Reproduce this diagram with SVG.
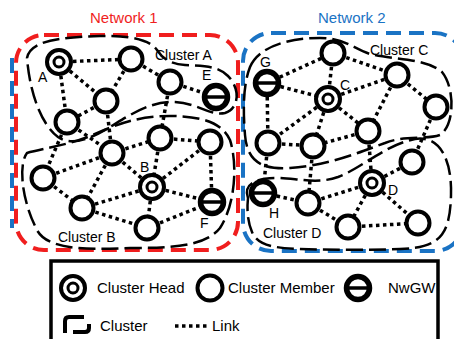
<svg xmlns="http://www.w3.org/2000/svg" width="454" height="339" viewBox="0 0 454 339">
<style>
.net1{fill:none;stroke:#f01e1e;stroke-width:4;stroke-dasharray:15 8}
.net2{fill:none;stroke:#1a73c4;stroke-width:4;stroke-dasharray:15 8}
.cl{fill:none;stroke:#000;stroke-width:2.5;stroke-dasharray:17 6}
.lk{stroke:#000;stroke-width:3.5;stroke-dasharray:3.5 3.5;fill:none}
.m{fill:#fff;stroke:#000;stroke-width:4}
.hi{fill:none;stroke:#000;stroke-width:3}
.gw{fill:#fff;stroke:#000;stroke-width:5.5}
.bar{stroke:#000;stroke-width:3.5}
text{font-family:"Liberation Sans",Arial,sans-serif;fill:#000}
.lb{font-size:14px}
.nt{font-size:15px}
</style>
<defs>
<g id="member"><circle class="m" r="11.5"/></g>
<g id="head"><circle class="m" r="12" stroke-width="4.5"/><circle class="hi" r="5"/></g>
<g id="gw"><circle class="gw" r="11.5"/><line class="bar" x1="-12" y1="0" x2="12" y2="0"/></g>
</defs>
<rect width="454" height="339" fill="#fff"/>

<g id="network1">
<rect class="net1" x="16" y="35" width="222" height="215" rx="28"/>
<text class="nt" x="90" y="23" style="fill:#f01e1e">Network 1</text>
</g>
<g id="network2">
<rect class="net2" x="243" y="33" width="220" height="218" rx="28"/>
<line class="net2" x1="12" y1="58" x2="12" y2="228"/>
<text class="nt" x="318" y="23" style="fill:#1a73c4">Network 2</text>
</g>

<g id="clusters">
<path id="clusterA" class="cl" d="M 27,58 C 30,42 55,37 100,36 C 130,35 150,40 157,50 C 162,58 170,64 185,65 C 205,66 218,66 228,76 C 240,88 240,108 225,113 C 210,116 200,104 175,102 C 150,101 130,115 110,127 C 92,138 72,147 58,137 C 42,125 30,95 27,58 Z"/>
<path id="clusterB" class="cl" d="M 27,153 C 45,148 70,145 95,134 C 120,123 140,116 170,116 C 200,116 222,122 230,140 C 238,165 235,205 220,228 C 205,247 170,248 130,248 C 85,250 45,250 36,228 C 22,200 18,165 27,153 Z"/>
<path id="clusterC" class="cl" d="M 250,67 C 258,48 285,38 320,38 C 345,38 352,48 370,54 C 395,60 425,58 442,72 C 455,88 455,125 440,135 C 425,140 405,135 385,143 C 360,152 330,165 290,168 C 260,170 247,160 245,135 C 243,110 243,85 250,67 Z"/>
<path id="clusterD" class="cl" d="M 248,198 C 243,185 255,177 280,178 C 300,179 318,184 338,177 C 362,168 385,145 415,139 C 440,135 452,160 451,195 C 450,235 440,248 400,249 C 370,250 330,250 300,249 C 275,248 258,246 252,232 C 247,220 247,208 248,198 Z"/>
<text class="lb" x="155" y="60">Cluster A</text>
<text class="lb" x="58" y="242">Cluster B</text>
<text class="lb" x="370" y="55">Cluster C</text>
<text class="lb" x="263" y="238">Cluster D</text>
</g>

<g id="links" class="lk">
<line x1="59" y1="62" x2="131" y2="59"/>
<line x1="59" y1="62" x2="106" y2="101"/>
<line x1="59" y1="62" x2="67" y2="122"/>
<line x1="131" y1="59" x2="106" y2="101"/>
<line x1="131" y1="59" x2="170" y2="82"/>
<line x1="170" y1="82" x2="216" y2="97"/>
<line x1="106" y1="101" x2="67" y2="122"/>
<line x1="170" y1="82" x2="160" y2="138"/>
<line x1="67" y1="122" x2="43" y2="178"/>
<line x1="106" y1="101" x2="112" y2="153"/>
<line x1="67" y1="122" x2="112" y2="153"/>
<line x1="43" y1="178" x2="112" y2="153"/>
<line x1="43" y1="178" x2="82" y2="208"/>
<line x1="112" y1="153" x2="160" y2="138"/>
<line x1="112" y1="153" x2="82" y2="208"/>
<line x1="112" y1="153" x2="152" y2="187"/>
<line x1="160" y1="138" x2="152" y2="187"/>
<line x1="160" y1="138" x2="210" y2="142"/>
<line x1="210" y1="142" x2="152" y2="187"/>
<line x1="210" y1="142" x2="212" y2="202"/>
<line x1="152" y1="187" x2="212" y2="202"/>
<line x1="152" y1="187" x2="82" y2="208"/>
<line x1="152" y1="187" x2="147" y2="228"/>
<line x1="82" y1="208" x2="147" y2="228"/>
<line x1="147" y1="228" x2="212" y2="202"/>
<line x1="267" y1="83" x2="333" y2="53"/>
<line x1="267" y1="83" x2="328" y2="99"/>
<line x1="267" y1="83" x2="268" y2="143"/>
<line x1="333" y1="53" x2="328" y2="99"/>
<line x1="333" y1="53" x2="397" y2="75"/>
<line x1="328" y1="99" x2="397" y2="75"/>
<line x1="328" y1="99" x2="368" y2="131"/>
<line x1="328" y1="99" x2="313" y2="146"/>
<line x1="328" y1="99" x2="268" y2="143"/>
<line x1="397" y1="75" x2="436" y2="107"/>
<line x1="397" y1="75" x2="368" y2="131"/>
<line x1="368" y1="131" x2="313" y2="146"/>
<line x1="268" y1="143" x2="313" y2="146"/>
<line x1="436" y1="107" x2="412" y2="162"/>
<line x1="268" y1="143" x2="263" y2="193"/>
<line x1="313" y1="146" x2="308" y2="203"/>
<line x1="263" y1="193" x2="308" y2="203"/>
<line x1="308" y1="203" x2="372" y2="183"/>
<line x1="308" y1="203" x2="348" y2="227"/>
<line x1="372" y1="183" x2="348" y2="227"/>
<line x1="372" y1="183" x2="418" y2="223"/>
<line x1="372" y1="183" x2="412" y2="162"/>
<line x1="348" y1="227" x2="418" y2="223"/>
<line x1="372" y1="183" x2="368" y2="131"/>
</g>

<g id="nodeA" transform="translate(59,62)"><use href="#head"/><text class="lb" x="-21" y="20">A</text></g>
<g id="nodeA1" transform="translate(131,59)"><use href="#member"/></g>
<g id="nodeA2" transform="translate(106,101)"><use href="#member"/></g>
<g id="nodeA3" transform="translate(67,122)"><use href="#member"/></g>
<g id="nodeA4" transform="translate(170,82)"><use href="#member"/></g>
<g id="nodeE" transform="translate(216,97)"><use href="#gw"/><text class="lb" x="-14" y="-17">E</text></g>

<g id="nodeB1" transform="translate(43,178)"><use href="#member"/></g>
<g id="nodeB2" transform="translate(112,153)"><use href="#member"/></g>
<g id="nodeB3" transform="translate(160,138)"><use href="#member"/></g>
<g id="nodeB4" transform="translate(210,142)"><use href="#member"/></g>
<g id="nodeB" transform="translate(152,187)"><use href="#head"/><text class="lb" x="-12" y="-15">B</text></g>
<g id="nodeF" transform="translate(212,202)"><use href="#gw"/><text class="lb" x="-12" y="26">F</text></g>
<g id="nodeB5" transform="translate(82,208)"><use href="#member"/></g>
<g id="nodeB6" transform="translate(147,228)"><use href="#member"/></g>

<g id="nodeG" transform="translate(267,83)"><use href="#gw"/><text class="lb" x="-7" y="-16">G</text></g>
<g id="nodeC1" transform="translate(333,53)"><use href="#member"/></g>
<g id="nodeC" transform="translate(328,99)"><use href="#head"/><text class="lb" x="12" y="-9">C</text></g>
<g id="nodeC2" transform="translate(397,75)"><use href="#member"/></g>
<g id="nodeC3" transform="translate(436,107)"><use href="#member"/></g>
<g id="nodeC4" transform="translate(368,131)"><use href="#member"/></g>
<g id="nodeC5" transform="translate(313,146)"><use href="#member"/></g>
<g id="nodeC6" transform="translate(268,143)"><use href="#member"/></g>

<g id="nodeH" transform="translate(263,193)"><use href="#gw"/><text class="lb" x="6" y="25">H</text></g>
<g id="nodeD1" transform="translate(308,203)"><use href="#member"/></g>
<g id="nodeD" transform="translate(372,183)"><use href="#head"/><text class="lb" x="16" y="12">D</text></g>
<g id="nodeD2" transform="translate(412,162)"><use href="#member"/></g>
<g id="nodeD3" transform="translate(348,227)"><use href="#member"/></g>
<g id="nodeD4" transform="translate(418,223)"><use href="#member"/></g>

<g id="legend">
<rect x="51" y="261" width="387" height="90" fill="#fff" stroke="#000" stroke-width="3.5"/>
<use href="#head" x="73" y="288"/>
<text class="nt" x="97" y="293">Cluster Head</text>
<circle class="m" cx="210" cy="288" r="12.5"/>
<text class="nt" x="228" y="293">Cluster Member</text>
<use href="#gw" x="358" y="288"/>
<text class="nt" x="388" y="293">NwGW</text>
<path d="M 65,333 V 321 Q 65,317 69,317 H 84 M 73,332 H 85 Q 89,332 89,328 V 324" fill="none" stroke="#000" stroke-width="4"/>
<text class="nt" x="100" y="331">Cluster</text>
<line class="lk" x1="175" y1="326" x2="207" y2="326" stroke-width="3" stroke-dasharray="3 2.5"/>
<text class="nt" x="212" y="331">Link</text>
</g>
</svg>
